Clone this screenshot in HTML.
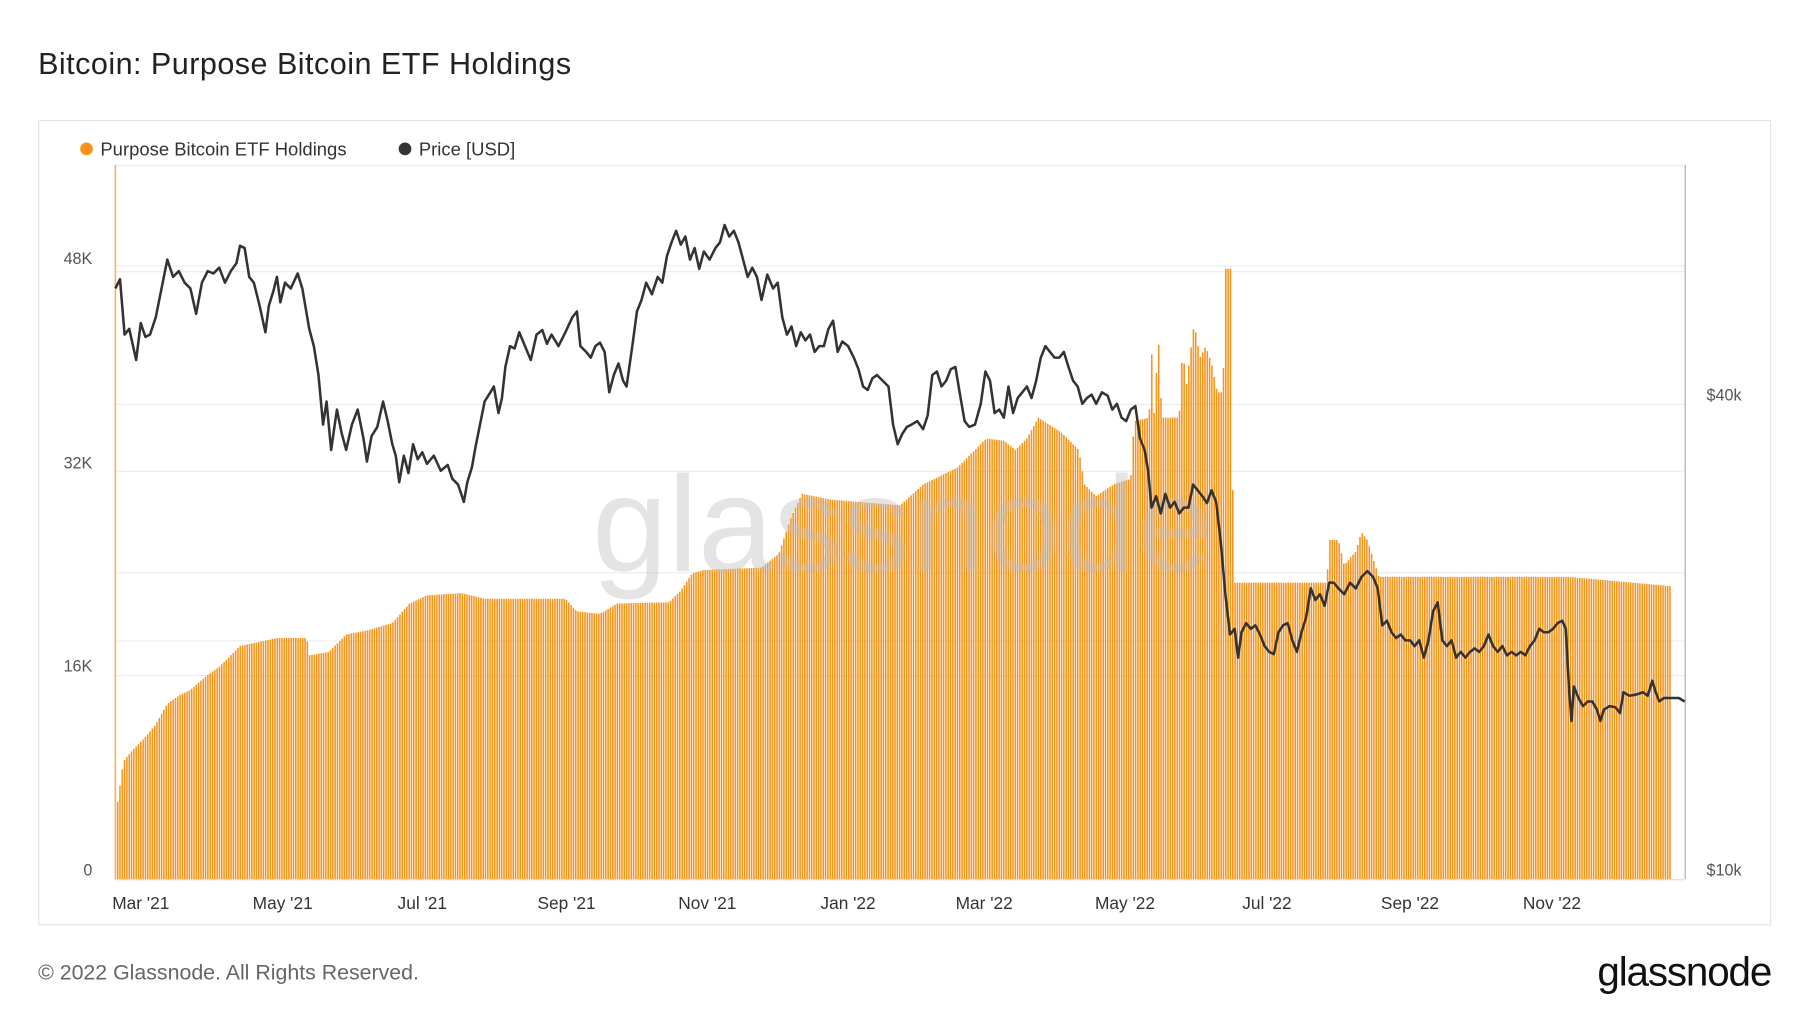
<!DOCTYPE html>
<html><head><meta charset="utf-8"><style>
html,body{margin:0;padding:0;background:#fff;}
svg{display:block;font-family:"Liberation Sans",Arial,sans-serif;}
</style></head><body>
<svg id="s" width="1800" height="1013" viewBox="0 0 1560 878" preserveAspectRatio="none" xmlns="http://www.w3.org/2000/svg">
<text x="33" y="64" font-size="26.5" fill="#222" letter-spacing="0.4">Bitcoin: Purpose Bitcoin ETF Holdings</text>
<rect x="33.5" y="104.5" width="1501" height="697" fill="#fff" stroke="#e4e4e4" stroke-width="1"/>
<circle cx="75" cy="129" r="5.5" fill="#f7931a"/>
<text x="87" y="135" font-size="16" fill="#333">Purpose Bitcoin ETF Holdings</text>
<circle cx="351" cy="129" r="5.5" fill="#333"/>
<text x="363" y="135" font-size="16" fill="#333">Price [USD]</text>
<g stroke="#ececec" stroke-width="1">
<line x1="100" x2="1460" y1="143.5" y2="143.5"/>
<line x1="100" x2="1460" y1="230.5" y2="230.5"/>
<line x1="100" x2="1460" y1="235.5" y2="235.5"/>
<line x1="100" x2="1460" y1="350.5" y2="350.5"/>
<line x1="100" x2="1460" y1="408.5" y2="408.5"/>
<line x1="100" x2="1460" y1="496.5" y2="496.5"/>
<line x1="100" x2="1460" y1="555.5" y2="555.5"/>
<line x1="100" x2="1460" y1="585.5" y2="585.5"/>
</g>
<g font-size="14" fill="#555" text-anchor="end">
<text x="80" y="229">48K</text><text x="80" y="406">32K</text><text x="80" y="582">16K</text><text x="80" y="759">0</text>
</g>
<g font-size="14" fill="#555">
<text x="1479" y="347">$40k</text><text x="1479" y="759">$10k</text>
</g>
<g id="bars"></g>
<text x="782" y="495" font-size="118" fill="#bbbbbb" fill-opacity="0.4" text-anchor="middle">glassnode</text>
<line x1="100" x2="100" y1="143" y2="762" stroke="#f7b56a" stroke-width="1.5"/>
<line x1="1460.5" x2="1460.5" y1="143" y2="762" stroke="#aaa" stroke-width="1"/>
<line x1="100" x2="1460" y1="762.5" y2="762.5" stroke="#ddd"/>
<polyline id="price" fill="none" stroke="#333" stroke-width="2.2" stroke-linejoin="round"/>
<g font-size="15" fill="#333" text-anchor="middle">
<text x="122" y="788">Mar '21</text><text x="245" y="788">May '21</text><text x="366" y="788">Jul '21</text>
<text x="491" y="788">Sep '21</text><text x="613" y="788">Nov '21</text><text x="735" y="788">Jan '22</text>
<text x="853" y="788">Mar '22</text><text x="975" y="788">May '22</text><text x="1098" y="788">Jul '22</text>
<text x="1222" y="788">Sep '22</text><text x="1345" y="788">Nov '22</text>
</g>
<text x="33" y="849" font-size="18.5" fill="#666">© 2022 Glassnode. All Rights Reserved.</text>
<text x="1535" y="854" font-size="35" fill="#111" text-anchor="end" letter-spacing="-1">glassnode</text>
</svg>
<script>
var H=[[102,695],[107,660],[115,650],[125,640],[135,628],[145,610],[155,603],[165,598],[180,585],[190,578],[208,560],[240,553],[266,553],[268,568],[285,565],[300,550],[320,546],[340,540],[355,523],[370,516],[400,514],[420,519],[470,519],[490,519],[500,530],[520,532],[535,523],[580,522],[590,512],[600,497],[610,494],[660,492],[675,480],[685,450],[695,428],[720,433],[780,438],[800,420],[830,405],[855,380],[870,382],[880,390],[890,380],[900,362],[920,375],[935,390],[940,420],[950,430],[965,420],[980,415],[983,365],[996,362],[998,300],[1000,362],[1004,293],[1007,362],[1022,362],[1025,300],[1028,335],[1035,280],[1040,310],[1045,300],[1050,315],[1055,340],[1060,340],[1062,233],[1067,233],[1069,505],[1150,505],[1152,468],[1160,468],[1165,490],[1175,478],[1180,461],[1185,468],[1195,500],[1360,500],[1448,508]];
function interp(x){for(var i=0;i<H.length-1;i++){if(x>=H[i][0]&&x<=H[i+1][0]){var a=H[i],b=H[i+1];return a[1]+(b[1]-a[1])*(x-a[0])/(b[0]-a[0]);}}return null;}
var g='';for(var x=102;x<=1448;x+=2.005){var y=interp(x);if(y==null)continue;g+='<rect x="'+(x-0.7).toFixed(2)+'" y="'+y.toFixed(1)+'" width="1.35" height="'+(762-y).toFixed(1)+'" fill="#f7931a"/>';}
document.getElementById('bars').innerHTML=g;
var P="100,250 104,242 108,290 112,285 118,312 122,280 126,292 130,290 135,275 140,250 145,225 150,240 155,235 160,245 165,250 170,272 175,245 180,235 185,237 190,232 195,245 200,235 205,228 208,213 212,215 216,240 220,245 225,265 230,288 233,265 237,252 240,240 243,262 247,245 252,250 258,237 262,250 268,285 272,300 276,325 280,368 283,348 287,390 292,355 296,375 300,390 305,368 310,355 315,380 318,400 322,378 327,370 332,348 336,365 340,385 343,395 346,418 350,395 354,410 358,385 362,398 366,392 370,402 376,395 382,408 388,403 392,415 397,420 402,435 405,418 409,405 412,388 416,368 420,348 425,340 428,335 432,358 435,345 438,318 442,300 446,302 450,288 455,300 460,312 465,290 470,286 474,298 478,290 484,300 490,288 496,275 500,270 503,300 508,305 512,310 516,300 520,297 524,305 528,340 532,325 536,315 540,330 543,335 548,300 552,270 556,260 560,245 565,255 570,240 574,245 578,222 582,210 586,200 590,212 594,205 598,225 602,215 606,233 610,218 615,225 620,215 624,210 628,195 632,205 636,200 640,210 644,225 648,240 652,232 656,240 660,260 665,238 670,250 674,245 678,275 682,290 686,283 690,300 694,288 698,295 702,290 706,305 710,300 714,300 718,285 722,278 726,305 730,296 735,300 740,310 744,320 748,335 752,338 756,328 760,325 765,330 770,335 774,368 778,385 782,376 786,370 790,368 795,365 800,372 804,360 808,325 812,322 816,335 820,330 824,320 828,318 832,342 836,365 840,370 845,368 850,350 854,322 858,330 862,358 866,355 870,362 874,335 878,358 882,345 886,340 890,335 894,345 898,330 902,310 906,300 910,305 914,310 918,310 922,305 926,318 930,330 934,335 938,350 942,345 946,342 950,350 955,340 960,343 964,355 968,350 972,362 976,365 980,355 984,352 988,380 992,390 995,408 998,440 1002,430 1006,445 1010,428 1014,440 1018,435 1022,445 1026,440 1030,440 1034,420 1038,425 1042,430 1046,436 1050,425 1054,435 1058,470 1062,515 1066,550 1070,545 1073,570 1076,548 1080,540 1084,545 1088,542 1092,550 1096,560 1100,565 1104,567 1108,548 1112,542 1116,540 1120,555 1124,565 1128,548 1132,535 1136,510 1140,520 1144,515 1148,525 1152,505 1156,505 1160,510 1165,515 1170,505 1175,510 1180,500 1185,495 1190,500 1194,510 1198,542 1202,538 1206,548 1210,553 1214,550 1218,555 1222,555 1226,560 1230,555 1234,570 1238,555 1242,530 1246,522 1250,555 1254,560 1258,555 1262,570 1266,565 1270,570 1274,565 1278,562 1282,565 1286,560 1290,550 1294,560 1298,565 1302,560 1306,568 1310,565 1314,568 1318,565 1322,568 1326,560 1330,555 1334,545 1338,548 1342,548 1346,545 1350,540 1354,538 1357,545 1360,600 1362,625 1364,595 1368,605 1372,612 1376,608 1380,608 1384,615 1387,625 1390,615 1395,612 1400,613 1404,618 1407,600 1412,603 1418,602 1424,600 1428,603 1432,590 1435,600 1438,608 1442,605 1448,605 1455,605 1460,608";
document.getElementById('price').setAttribute('points',P);
</script>
</body></html>
